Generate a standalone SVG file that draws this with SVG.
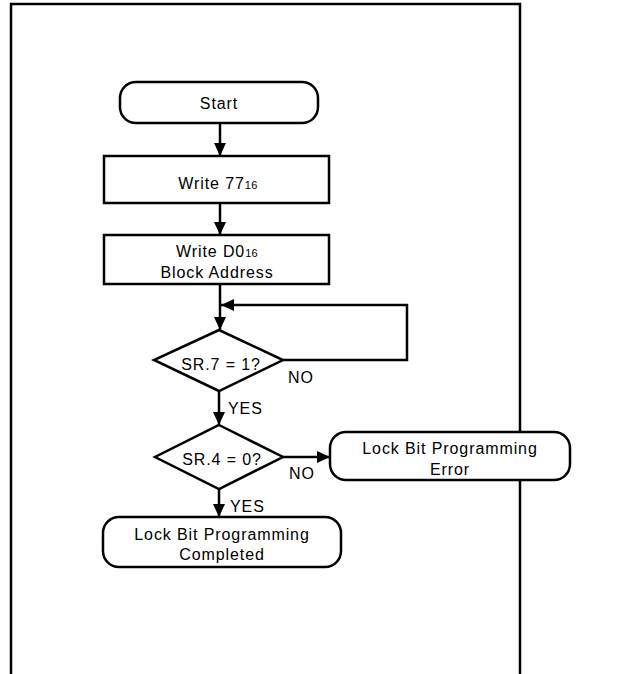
<svg xmlns="http://www.w3.org/2000/svg" width="628" height="674" viewBox="0 0 628 674">
<defs>
<marker id="ah" markerUnits="userSpaceOnUse" markerWidth="14" markerHeight="12" viewBox="0 0 14 12" refX="13" refY="6" orient="auto">
<path d="M0,0 L13,6 L0,12 Z" fill="#000"/>
</marker>
</defs>
<style>
.b{fill:#fff;stroke:#000;stroke-width:2.5}
.c{fill:none;stroke:#000;stroke-width:2.5}
text{font-family:"Liberation Sans",Arial,sans-serif;font-size:16px;letter-spacing:0.9px;fill:#000}
.m{text-anchor:middle}
.s{font-size:11px;letter-spacing:0.3px}
</style>
<rect width="628" height="674" fill="#fff"/>
<path d="M11,674 V4 H520 V674" fill="none" stroke="#000" stroke-width="2.5"/>
<g id="connectors">
<line class="c" x1="220" y1="123" x2="220" y2="156" marker-end="url(#ah)"/>
<line class="c" x1="220" y1="203" x2="220" y2="235" marker-end="url(#ah)"/>
<line class="c" x1="220" y1="284" x2="220" y2="330" marker-end="url(#ah)"/>
<path class="c" d="M283,360 H407 V305 H221" marker-end="url(#ah)"/>
<line class="c" x1="219" y1="391" x2="219" y2="425" marker-end="url(#ah)"/>
<line class="c" x1="283" y1="457" x2="330" y2="457" marker-end="url(#ah)"/>
<line class="c" x1="219" y1="489" x2="219" y2="517" marker-end="url(#ah)"/>
<text x="288" y="383">NO</text>
<text x="228" y="414">YES</text>
<text x="289" y="479">NO</text>
<text x="230" y="512">YES</text>
</g>
<g id="start">
<rect class="b" x="120" y="82" width="198" height="41" rx="16"/>
<text class="m" x="219" y="109">Start</text>
</g>
<g id="write77">
<rect class="b" x="104" y="156" width="225" height="47"/>
<text class="m" x="218" y="189">Write 77<tspan class="s">16</tspan></text>
</g>
<g id="writeD0">
<rect class="b" x="104" y="235" width="225" height="49"/>
<text class="m" x="217" y="257">Write D0<tspan class="s">16</tspan></text>
<text class="m" x="217" y="278">Block Address</text>
</g>
<g id="sr7">
<polygon class="b" points="219,330 283,360 219,391 154,360"/>
<text class="m" x="221" y="370">SR.7 = 1?</text>
</g>
<g id="sr4">
<polygon class="b" points="219,425 283,457 219,489 155,457"/>
<text class="m" x="222" y="465">SR.4 = 0?</text>
</g>
<g id="error">
<rect class="b" x="330" y="432" width="240" height="48" rx="16"/>
<text class="m" x="450" y="454">Lock Bit Programming</text>
<text class="m" x="450" y="475">Error</text>
</g>
<g id="completed">
<rect class="b" x="103" y="517" width="238" height="50" rx="16"/>
<text class="m" x="222" y="540">Lock Bit Programming</text>
<text class="m" x="222" y="560">Completed</text>
</g>
</svg>
